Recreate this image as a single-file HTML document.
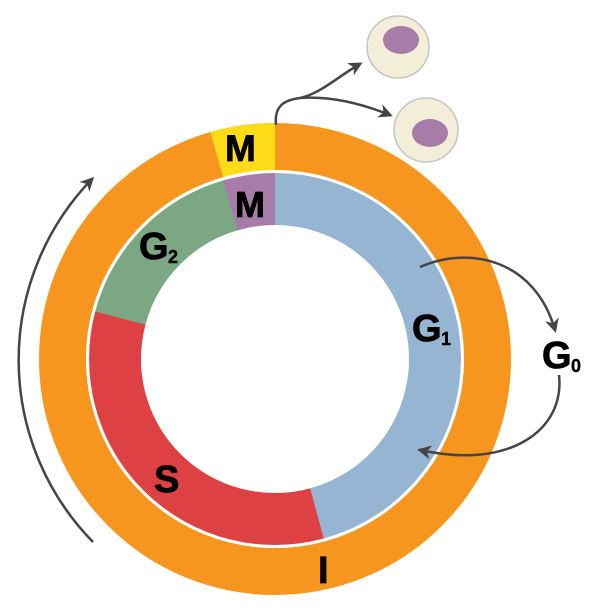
<!DOCTYPE html>
<html><head><meta charset="utf-8"><style>
html,body{margin:0;padding:0;background:#fff;}
svg{display:block;}
text{font-family:"Liberation Sans",sans-serif;font-weight:bold;fill:#000;}
</style></head><body>
<svg width="600" height="613" viewBox="0 0 600 613" xmlns="http://www.w3.org/2000/svg">
<defs>
<marker id="ah" markerWidth="14" markerHeight="14" refX="11" refY="7" orient="auto" markerUnits="userSpaceOnUse" viewBox="0 0 14 14">
<path d="M0,0 L14,7 L0,14 L4,7 Z" fill="#454545"/>
</marker>
</defs>
<g transform="rotate(-90 275 359)">
<circle cx="275" cy="359" r="212.5" fill="none" stroke="#f7961e" stroke-width="47"/>
<circle cx="275" cy="359" r="212.5" fill="none" stroke="#fedd18" stroke-width="47" stroke-dasharray="59.3 2000" stroke-dashoffset="-1275.9"/>
<circle cx="275" cy="359" r="160" fill="none" stroke="#95b5d3" stroke-width="52" stroke-dasharray="461 2000" stroke-dashoffset="0"/>
<circle cx="275" cy="359" r="160" fill="none" stroke="#dd4143" stroke-width="52" stroke-dasharray="336 2000" stroke-dashoffset="-460"/>
<circle cx="275" cy="359" r="160" fill="none" stroke="#7ba882" stroke-width="52" stroke-dasharray="165 2000" stroke-dashoffset="-795"/>
<circle cx="275" cy="359" r="160" fill="none" stroke="#a77ca8" stroke-width="52" stroke-dasharray="46 2000" stroke-dashoffset="-959.5"/>
</g>
<circle cx="275" cy="359" r="187.5" fill="none" stroke="#fff" stroke-width="3"/>
<circle cx="398" cy="47" r="31" fill="#f3eed7" stroke="#c4c4c4" stroke-width="1.5"/>
<ellipse cx="401" cy="40" rx="18" ry="14" fill="#a77ca8"/>
<circle cx="426" cy="130" r="32" fill="#f3eed7" stroke="#c4c4c4" stroke-width="1.5"/>
<ellipse cx="430" cy="133" rx="18" ry="14" fill="#a77ca8"/>
<g fill="none" stroke="#454545" stroke-width="2.5">
<path d="M276,125 C274,105 285,100 300,98 C320,94 340,75 360,64" marker-end="url(#ah)"/>
<path d="M300,98 C330,96 360,103 390,115" marker-end="url(#ah)"/>
<path d="M420,267 C470,245 535,260 555,330" marker-end="url(#ah)"/>
<path d="M559,375 C565,430 510,470 420,450" marker-end="url(#ah)"/>
<path d="M93,542 A260 260 0 0 1 92,179" marker-end="url(#ah)"/>
</g>
<g stroke="#000" stroke-width="0.8">
<text x="225" y="161" font-size="37">M</text>
<text x="235" y="217" font-size="36">M</text>
<text x="139" y="259" font-size="38">G</text><text x="168" y="263" font-size="18" stroke-width="0.4">2</text>
<text x="412" y="341" font-size="38">G</text><text x="441" y="345" font-size="18" stroke-width="0.4">1</text>
<text x="542" y="368" font-size="38">G</text><text x="571" y="372" font-size="18" stroke-width="0.4">0</text>
<text x="154" y="492" font-size="38">S</text>
<text x="318" y="583" font-size="38">I</text>
</g>
</svg>
</body></html>
